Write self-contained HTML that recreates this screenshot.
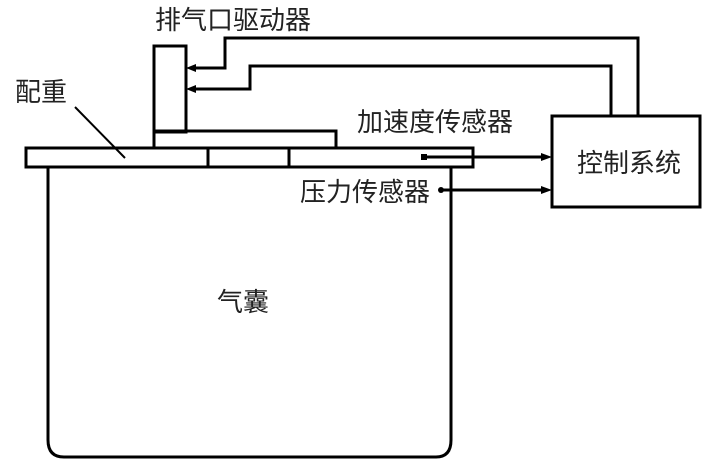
<!DOCTYPE html>
<html><head><meta charset="utf-8"><style>
html,body{margin:0;padding:0;background:#fff;width:702px;height:460px;overflow:hidden}
svg{display:block}
text{font-family:"Liberation Sans","Noto Sans CJK SC",sans-serif;fill:#222}
</style></head><body>
<svg width="702" height="460" viewBox="0 0 702 460">
<g fill="none" stroke="#000" stroke-width="3">
<path d="M48 167 V440 Q48 457 64 457 H436 Q451 457 451 440 V167"/>
<rect x="26" y="148" width="447" height="19"/>
<line x1="208" y1="148" x2="208" y2="167"/>
<line x1="289" y1="148" x2="289" y2="167"/>
<rect x="154" y="46" width="32" height="86"/>
<path d="M154 132 V148 M154 131 H336 V148"/>
<rect x="552" y="116" width="148" height="91"/>
<path d="M190 68 H225 V38 H638 V116"/>
<path d="M190 89 H250 V66 H611 V116"/>
<path d="M425 157 H548"/>
<path d="M442 190 H548"/>
<line x1="75" y1="107" x2="125" y2="158" stroke-width="2"/>
</g>
<g fill="#000">
<polygon points="186,68 196,64 196,72"/>
<polygon points="186,89 196,85 196,93"/>
<polygon points="552,157 541,153 541,161"/>
<polygon points="552,190 541,186 541,194"/>
<rect x="421" y="154" width="6" height="6"/>
<circle cx="441" cy="190" r="3"/>
</g>
<g font-size="26">
<text x="155" y="29">排气口驱动器</text>
<text x="15" y="101">配重</text>
<text x="357" y="131">加速度传感器</text>
<text x="300" y="201">压力传感器</text>
<text x="577" y="172">控制系统</text>
<text x="217" y="311">气囊</text>
</g>
</svg>
</body></html>
